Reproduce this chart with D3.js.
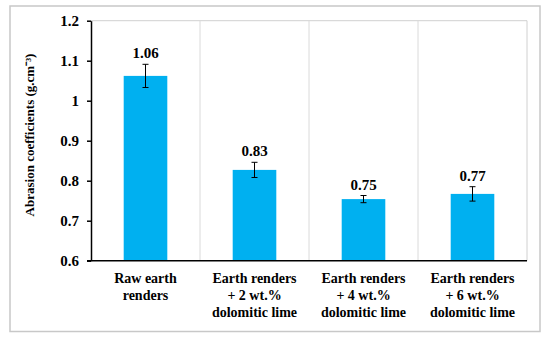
<!DOCTYPE html>
<html><head><meta charset="utf-8">
<script src="https://cdn.jsdelivr.net/npm/d3@7"></script>
<style>body{margin:0;background:#fff}svg{display:block}text{font-family:'Liberation Serif','Times New Roman',serif;font-weight:bold}</style>
</head><body>
<svg id="c" width="550" height="340"></svg>
<script>
const categories = [
  ["Raw earth", "renders"],
  ["Earth renders", "+ 2 wt.%", "dolomitic lime"],
  ["Earth renders", "+ 4 wt.%", "dolomitic lime"],
  ["Earth renders", "+ 6 wt.%", "dolomitic lime"]
];
const values = [1.062, 0.827, 0.754, 0.767];
const valueLabels = ["1.06", "0.83", "0.75", "0.77"];
const errors = [0.029, 0.019, 0.009, 0.018];
const yTicks = [0.6, 0.7, 0.8, 0.9, 1, 1.1, 1.2];
const yTitle = "Abrasion coefficients (g.cm\u207B\u00B3)";

const svg = d3.select("#c");
const font = "'Liberation Serif','Times New Roman',serif";
const L = 91, R = 527, T = 20.7, B = 260.7;

svg.append("rect").attr("x", 10).attr("y", 6).attr("width", 530).attr("height", 325.5)
  .attr("fill", "#fff").attr("stroke", "#c8c8c8").attr("stroke-width", 1.5);

const x = d3.scaleBand().domain(d3.range(categories.length)).range([L, R]).padding(0);
const y = d3.scaleLinear().domain([0.6, 1.2]).range([B, T]);

svg.append("line").attr("x1", L).attr("x2", R).attr("y1", y(1.2)).attr("y2", y(1.2))
  .attr("stroke", "#d0d0d0").attr("stroke-width", 1);
svg.append("line").attr("x1", R).attr("x2", R).attr("y1", y(1.2)).attr("y2", y(0.6))
  .attr("stroke", "#d0d0d0").attr("stroke-width", 1);
svg.selectAll(".sep").data(d3.range(1, categories.length)).join("line")
  .attr("x1", d => x(d)).attr("x2", d => x(d)).attr("y1", y(1.2)).attr("y2", y(0.6))
  .attr("stroke", "#dadada").attr("stroke-width", 1);

const bw = x.bandwidth() * 0.4;
svg.selectAll(".bar").data(values).join("rect")
  .attr("x", (d, i) => x(i) + x.bandwidth() / 2 - bw / 2)
  .attr("width", bw)
  .attr("y", d => y(d)).attr("height", d => y(0.6) - y(d))
  .attr("fill", "#00B0F0");

const eg = svg.append("g").attr("stroke", "#000").attr("stroke-width", 1);
values.forEach((v, i) => {
  const cx = x(i) + x.bandwidth() / 2;
  eg.append("line").attr("x1", cx).attr("x2", cx).attr("y1", y(v + errors[i])).attr("y2", y(v - errors[i]));
  [v + errors[i], v - errors[i]].forEach(e => {
    eg.append("line").attr("x1", cx - 3).attr("x2", cx + 3).attr("y1", y(e)).attr("y2", y(e));
  });
});

svg.selectAll(".vl").data(values).join("text")
  .attr("x", (d, i) => x(i) + x.bandwidth() / 2)
  .attr("y", (d, i) => y(d + errors[i]) - 6)
  .attr("text-anchor", "middle").style("font-family", font).style("font-weight", "bold")
  .style("font-size", "15px").text((d, i) => valueLabels[i]);

const ya = svg.append("g").attr("transform", `translate(${L},0)`)
  .call(d3.axisLeft(y).tickValues(yTicks).tickSize(4).tickSizeOuter(0).tickPadding(8)
    .tickFormat(d => String(d)));
ya.select(".domain").attr("stroke", "#000").attr("stroke-width", 1.5);
ya.selectAll(".tick line").attr("stroke", "#000").attr("stroke-width", 1.5);
ya.selectAll("text").style("font-family", font).style("font-weight", "bold").style("font-size", "15px").attr("fill", "#000");

svg.append("line").attr("x1", L - 4).attr("x2", R).attr("y1", B).attr("y2", B)
  .attr("stroke", "#000").attr("stroke-width", 1.5);

categories.forEach((lines, i) => {
  const t = svg.append("text").attr("text-anchor", "middle").style("font-family", font)
    .style("font-weight", "bold").style("font-size", "14px").attr("fill", "#000");
  lines.forEach((s, j) => {
    t.append("tspan").attr("x", x(i) + x.bandwidth() / 2).attr("y", 283 + j * 17).text(s);
  });
});

svg.append("text").attr("transform", `translate(34,135) rotate(-90)`)
  .attr("text-anchor", "middle").style("font-family", font).style("font-weight", "bold")
  .style("font-size", "13px").text(yTitle);
</script>
</body></html>
